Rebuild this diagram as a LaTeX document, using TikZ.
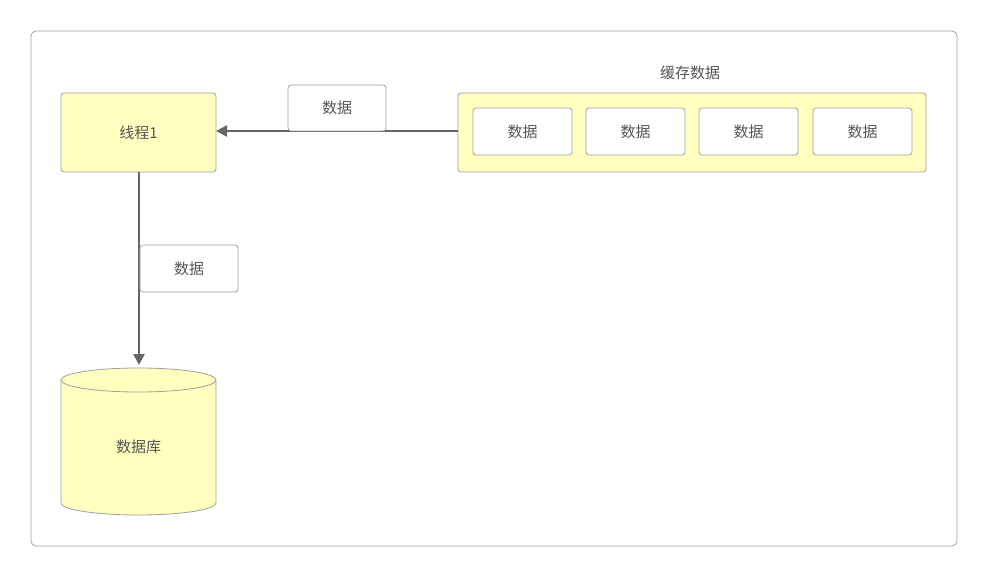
\documentclass[tikz,border=0pt]{standalone}
\usepackage{fontspec}
\newfontfamily\cjk{Noto Sans CJK SC}
\usetikzlibrary{arrows.meta,shapes.geometric}
\definecolor{yel}{HTML}{FFFFC0}
\definecolor{bd}{HTML}{A0A0A0}
\definecolor{txt}{HTML}{555555}
\definecolor{ln}{HTML}{666666}
\begin{document}
\begin{tikzpicture}[x=1pt,y=-1pt,
  font=\cjk\fontsize{15}{18}\selectfont, text=txt,
  ybox/.style={draw=bd,fill=yel,rounded corners=3pt,line width=0.8pt},
  wbox/.style={draw=bd,fill=white,rounded corners=3pt,line width=0.8pt},
  conn/.style={draw=ln,line width=2.5pt,-{Triangle[length=11pt,width=11pt]}}]
\useasboundingbox (0,0) rectangle (988,577);
\draw[draw=bd,rounded corners=5pt,line width=0.8pt] (31,31) rectangle (957,546);
\draw[ybox] (61,93) rectangle (216,172);
\node (t) at (138.5,132.5) {线程1};
\coordinate (tr) at (216,131);
\coordinate (tb) at (139,172);
\draw[ybox] (458,93) rectangle (926,172);
\node (ct) at (690,73) {缓存数据};
\coordinate (cl) at (458,131);
\foreach \x/\n in {473/a,586/b,699/c,813/d}{
  \draw[wbox] (\x,108) rectangle (\x+99,155);
  \node (\n) at (\x+49.5,131.5) {数据};
}
\draw[conn] (cl) -- (tr);
\draw[wbox] (288,85) rectangle (386,131);
\node (l1) at (337,108) {数据};
\coordinate (db) at (139,365);
\draw[conn] (tb) -- (db);
\draw[wbox] (140,245) rectangle (238,292);
\node (l2) at (189,268.5) {数据};
% cylinder
\draw[ybox,rounded corners=0pt] (61,380) -- (61,503) arc[x radius=77.5,y radius=12,start angle=180,end angle=0] -- (216,380) arc[x radius=77.5,y radius=12,start angle=0,end angle=-180] -- cycle;
\draw[draw=bd,line width=0.8pt] (61,380) arc[x radius=77.5,y radius=12,start angle=180,end angle=0];
\node (dbn) at (138.5,447) {数据库};
\end{tikzpicture}
\end{document}
